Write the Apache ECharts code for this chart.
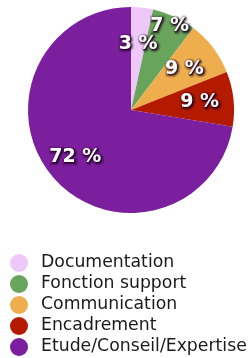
<!DOCTYPE html>
<html>
<head>
<meta charset="utf-8">
<script src="https://cdn.jsdelivr.net/npm/echarts@6/dist/echarts.min.js"></script>
<style>
html,body{margin:0;padding:0;background:#fff;}
#chart{width:252px;height:358px;}
</style>
</head>
<body>
<div id="chart"></div>
<script>
var categories = ['Documentation', 'Fonction support', 'Communication', 'Encadrement', 'Etude/Conseil/Expertise'];
var values = [2, 4, 5, 5, 42];
var colors = ['#efc8fa', '#69a45c', '#eeae4d', '#b31a00', '#7b1f9e'];

// distance des étiquettes depuis le centre
var labelRadius = [66, 92, 67, 69, 73];
var cx = 131, cy = 110;

function buildData(transparent) {
    var d = [];
    for (var i = 0; i < categories.length; i++) {
        d.push({name: categories[i], value: values[i],
            itemStyle: {color: transparent ? 'transparent' : colors[i]}});
    }
    return d;
}

function placeLabel(shift) {
    return function (p) {
        var r = p.labelRect;
        var lx = r.x + r.width / 2 - cx;
        var ly = r.y + r.height / 2 - cy;
        var d = Math.sqrt(lx * lx + ly * ly) || 1;
        var k = labelRadius[p.dataIndex] / d;
        return {dx: lx * (k - 1) + shift, dy: ly * (k - 1) + shift};
    };
}

function labelSeries(style, shift) {
    var lab = {
        show: true,
        position: 'inside',
        formatter: '{d} %',
        fontFamily: 'DejaVu Sans',
        fontWeight: 'bold',
        fontSize: 19
    };
    for (var k in style) lab[k] = style[k];
    return {
        type: 'pie',
        center: [cx, cy],
        radius: 103,
        startAngle: 90,
        silent: true,
        percentPrecision: 0,
        label: lab,
        labelLine: {show: false},
        labelLayout: placeLabel(shift),
        data: buildData(true)
    };
}

var chart = echarts.init(document.getElementById('chart'));
chart.setOption({
    animation: false,
    legend: {
        orient: 'vertical',
        left: 10,
        top: 254,
        height: 110,
        padding: 0,
        itemWidth: 18,
        itemHeight: 18,
        itemGap: 3,
        icon: 'circle',
        textStyle: {
            fontFamily: 'DejaVu Sans',
            fontSize: 17.3,
            lineHeight: 18,
            color: '#1a1a1a',
            padding: [0, 0, 0, 8]
        },
        data: categories
    },
    series: [
        {
            type: 'pie',
            center: [cx, cy],
            radius: 103,
            startAngle: 90,
            silent: true,
            label: {show: false},
            labelLine: {show: false},
            data: buildData(false)
        },
        // ombre des étiquettes
        labelSeries({color: 'rgba(30,0,30,0.25)', textBorderColor: 'rgba(30,0,30,0.25)', textBorderWidth: 5}, 1),
        labelSeries({color: 'rgba(30,0,30,0.5)', textBorderColor: 'rgba(30,0,30,0.5)', textBorderWidth: 2}, 1),
        labelSeries({color: '#fff', textBorderWidth: 0}, 0)
    ]
});
</script>
</body>
</html>
